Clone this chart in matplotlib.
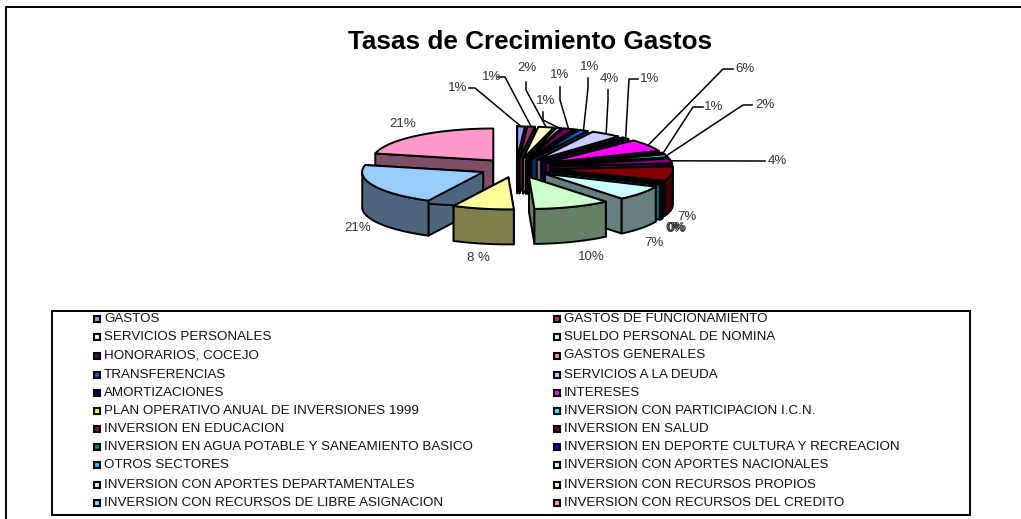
import numpy as np
import matplotlib
matplotlib.use("Agg")
import matplotlib.pyplot as plt
from matplotlib.colors import to_rgb
from matplotlib.patches import Polygon, Rectangle

plt.rcParams['font.family'] = ['Liberation Sans', 'DejaVu Sans']

categories = ["GASTOS", "GASTOS DE FUNCIONAMIENTO", "SERVICIOS PERSONALES",
              "SUELDO PERSONAL DE NOMINA", "HONORARIOS, COCEJO", "GASTOS GENERALES",
              "TRANSFERENCIAS", "SERVICIOS A LA DEUDA", "AMORTIZACIONES", "INTERESES",
              "PLAN OPERATIVO ANUAL DE INVERSIONES 1999", "INVERSION CON PARTICIPACION I.C.N.",
              "INVERSION EN EDUCACION", "INVERSION EN SALUD",
              "INVERSION EN AGUA POTABLE Y SANEAMIENTO BASICO",
              "INVERSION EN DEPORTE CULTURA Y RECREACION", "OTROS SECTORES",
              "INVERSION CON APORTES NACIONALES", "INVERSION CON APORTES DEPARTAMENTALES",
              "INVERSION CON RECURSOS PROPIOS", "INVERSION CON RECURSOS DE LIBRE ASIGNACION",
              "INVERSION CON RECURSOS DEL CREDITO"]
values = [1, 1, 2, 0.6, 1.4, 0.3, 1.2, 4, 1, 6, 0.6, 1.4, 2.5, 7.2, 0.2, 0.2, 0.3,
          7.3, 10, 8, 20.6, 21]
colors = ["#9999FF", "#993366", "#FFFFCC", "#CCFFFF", "#660066", "#FF8080", "#0066CC",
          "#CCCCFF", "#000080", "#FF00FF", "#FFFF00", "#00FFFF", "#800080", "#800000",
          "#008080", "#0000FF", "#00CCFF", "#CCFFFF", "#CCFFCC", "#FFFF99", "#99CCFF", "#FF99CC"]
pct_labels = ["1%", "1%", "2%", "1%", "1%", "", "1%", "4%", "1%", "6%", "1%", "2%", "4%",
              "7%", "0%", "0%", "0%", "7%", "10%", "8 %", "21%", "21%"]

# where each label text sits, in pixels
label_pos = [(458, 88), (492, 77), (527, 68), (546, 101), (560, 75), None, (590, 67),
             (609, 79), (650, 79), (745, 69), (714, 107), (765, 105), (777, 161),
             (687, 217), (675, 228), (677, 228), (676, 229), (654, 243), (591, 257),
             (478, 258), (358, 228), (403, 124)]
# leader line: start and knee in pixels, the end comes from the slice
leaders = {0: ((469, 88), (475, 88)), 1: ((498, 77), (505, 77)), 2: ((526, 82), (526, 90)),
           3: ((543, 112), (543, 120)), 4: ((560, 87), (560, 100)), 6: ((588, 78), (588, 88)),
           7: ((608, 90), (608, 100)), 8: ((638, 79), (629, 79)), 9: ((733, 69), (723, 69)),
           10: ((703, 107), (693, 107)), 11: ((752, 105), (743, 105)), 12: ((765, 161), (765, 161))}

cx, cy = 516, 168
rx, ry = 121, 32
depth = 35
explode = 0.3

fig = plt.figure(figsize=(10.21, 5.19), dpi=100)
ax = fig.add_axes([0, 0, 1, 1])
ax.set_xlim(0, 1021)
ax.set_ylim(519, 0)
ax.axis('off')

LW = 1.4
# the outer border only shows on the top and the left
ax.plot([6, 6, 1021], [519, 6.5, 6.5], color='black', lw=1.4)

shares = np.array(values) / sum(values)
starts = np.concatenate([[0], np.cumsum(shares)[:-1]]) * 2 * np.pi
ends = np.cumsum(shares) * 2 * np.pi
mids = (starts + ends) / 2


def point(ang, ax0, ay0):
    return ax0 + rx * np.sin(ang), ay0 - ry * np.cos(ang)


def origin(i):
    return cx + explode * rx * np.sin(mids[i]), cy - explode * ry * np.cos(mids[i])


# back slices first so the front ones cover them
order = np.argsort(-np.cos(mids))
for i in order:
    a0, a1 = starts[i], ends[i]
    ox, oy = origin(i)
    face = np.array(to_rgb(colors[i]))
    side = face * 0.5
    th = np.linspace(a0, a1, max(int((a1 - a0) * 40), 2))
    xs, ys = point(th, ox, oy)

    # cut faces
    for a in (a0, a1):
        ex, ey = point(a, ox, oy)
        ax.add_patch(Polygon([(ox, oy), (ex, ey), (ex, ey + depth), (ox, oy + depth)],
                             fc=side, ec='black', lw=LW, joinstyle='round'))
    # rim, only the part facing front
    front = np.cos(th) < 0.05
    if front.any():
        fx, fy = xs[front], ys[front]
        rim = list(zip(fx, fy)) + list(zip(fx[::-1], fy[::-1] + depth))
        ax.add_patch(Polygon(rim, fc=side, ec='black', lw=LW, joinstyle='round'))
    # top
    ax.add_patch(Polygon([(ox, oy)] + list(zip(xs, ys)), fc=face, ec='black', lw=LW,
                         joinstyle='round'))

# labels and leader lines
for i, txt in enumerate(pct_labels):
    if not txt:
        continue
    lx, ly = label_pos[i]
    ax.text(lx, ly, txt, fontsize=9.5, color='#333333', ha='center', va='center')
    if i in leaders:
        ex, ey = point(mids[i], *origin(i))
        (sx, sy), (kx, ky) = leaders[i]
        ax.plot([sx, kx, ex], [sy, ky, ey], color='black', lw=1.1)

ax.text(530, 42, "Tasas de Crecimiento Gastos", fontsize=18.8, fontweight='bold',
        ha='center', va='center', color='black')

# legend
ax.add_patch(Rectangle((52, 311), 918, 204, fc='white', ec='black', lw=1.4))
row_y = [318, 336, 355, 374, 392, 410, 428, 446, 464, 484, 502]
for i, name in enumerate(categories):
    row = i // 2
    col = i % 2
    bx = 97 if col == 0 else 557
    ax.add_patch(Rectangle((bx - 3, row_y[row] - 2.5), 6, 6, fc=colors[i], ec='black', lw=1.5))
    ax.text(bx + 7, row_y[row] + 0.5, name, fontsize=9.6, color='#111111', ha='left', va='center')

fig.savefig("out.png", dpi=100)
